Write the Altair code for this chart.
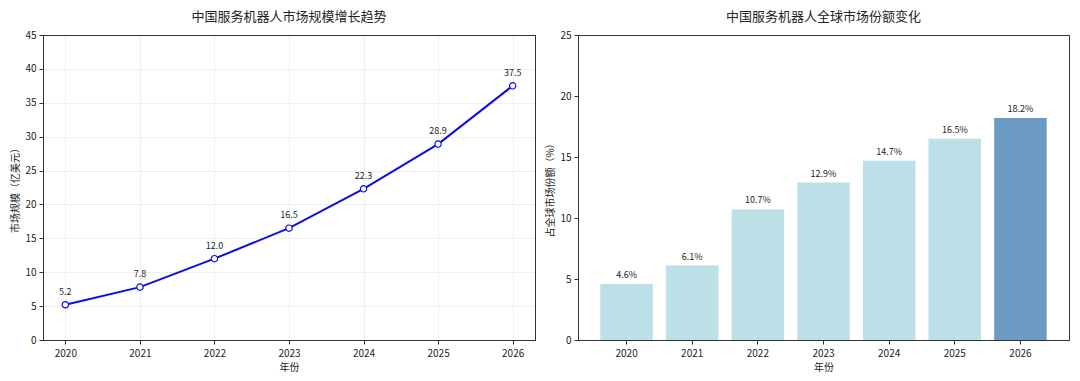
import altair as alt
import pandas as pd

years = ["2020", "2021", "2022", "2023", "2024", "2025", "2026"]
market_size = [5.2, 7.8, 12.0, 16.5, 22.3, 28.9, 37.5]
global_share = [4.6, 6.1, 10.7, 12.9, 14.7, 16.5, 18.2]

title_left = "中国服务机器人市场规模增长趋势"
title_right = "中国服务机器人全球市场份额变化"
xlabel = "年份"
ylabel_left = "市场规模（亿美元）"
ylabel_right = "占全球市场份额（%）"

FONT = "Noto Sans CJK SC"
W1, W2, H = 492, 491, 305

df1 = pd.DataFrame({"year": years, "size": market_size,
                    "label": [f"{v:.1f}" for v in market_size]})
df2 = pd.DataFrame({"year": years, "share": global_share,
                    "label": [f"{v:.1f}%" for v in global_share]})

x1 = alt.X("year:O", title=xlabel,
           scale=alt.Scale(type="point", padding=0.3),
           axis=alt.Axis(labelAngle=0, grid=True, labelPadding=4))
y1 = alt.Y("size:Q", title=ylabel_left,
           scale=alt.Scale(domain=[0, 45], nice=False),
           axis=alt.Axis(values=list(range(0, 50, 5)), grid=True))

line = alt.Chart(df1).mark_line(color="#0c0ce6", strokeWidth=2).encode(x=x1, y=y1)
pts = alt.Chart(df1).mark_point(filled=True, fill="white", stroke="#0c0ce6",
                                strokeWidth=1.2, size=40, opacity=1).encode(x=x1, y=y1)
txt1 = alt.Chart(df1).mark_text(fontSize=9, dy=-13, baseline="middle",
                                font=FONT, color="#222").encode(x=x1, y=y1, text="label")
frame = alt.Chart(df1).mark_rect(fill=None, stroke="#333", strokeWidth=1).encode(
    x=alt.value(0.5), x2=alt.value(W1 + 0.5), y=alt.value(0.5), y2=alt.value(H + 0.5))
left = (line + pts + txt1 + frame).properties(
    width=W1, height=H, title=title_left,
    view=alt.ViewBackground(stroke="transparent"))

x2 = alt.X("year:O", title=xlabel,
           scale=alt.Scale(type="band", paddingInner=0.2, paddingOuter=0.34),
           axis=alt.Axis(labelAngle=0, grid=False, labelPadding=4))
y2 = alt.Y("share:Q", title=ylabel_right,
           scale=alt.Scale(domain=[0, 25], nice=False),
           axis=alt.Axis(values=list(range(0, 30, 5)), grid=False))

bars = alt.Chart(df2).mark_bar().encode(
    x=x2, y=y2,
    color=alt.condition(alt.datum.year == years[-1], alt.value("#6b9bc3"), alt.value("#bddfe8")),
)
txt2 = alt.Chart(df2).mark_text(fontSize=9, dy=-9, baseline="middle",
                                font=FONT, color="#222").encode(x=x2, y=y2, text="label")
right = (bars + txt2).properties(width=W2, height=H, title=title_right)

chart = alt.hconcat(left, right, spacing=8).properties(
    padding={"left": 2, "top": 2, "right": 0, "bottom": 0}
).configure_view(
    stroke="#333", strokeWidth=1
).configure_axis(
    domainColor="#333", tickColor="#333", tickSize=4, labelColor="#222",
    labelFont=FONT, labelFontSize=10, labelPadding=3,
    titleFont=FONT, titleFontSize=10, titleFontWeight="normal", titleColor="#222",
    titlePadding=4, gridColor="#ebebeb", gridWidth=0.8,
).configure_title(
    font=FONT, fontSize=13, fontWeight="normal", color="#222", anchor="middle", offset=6
)

chart.save("out.html", embed_options={"renderer": "svg", "actions": False})
